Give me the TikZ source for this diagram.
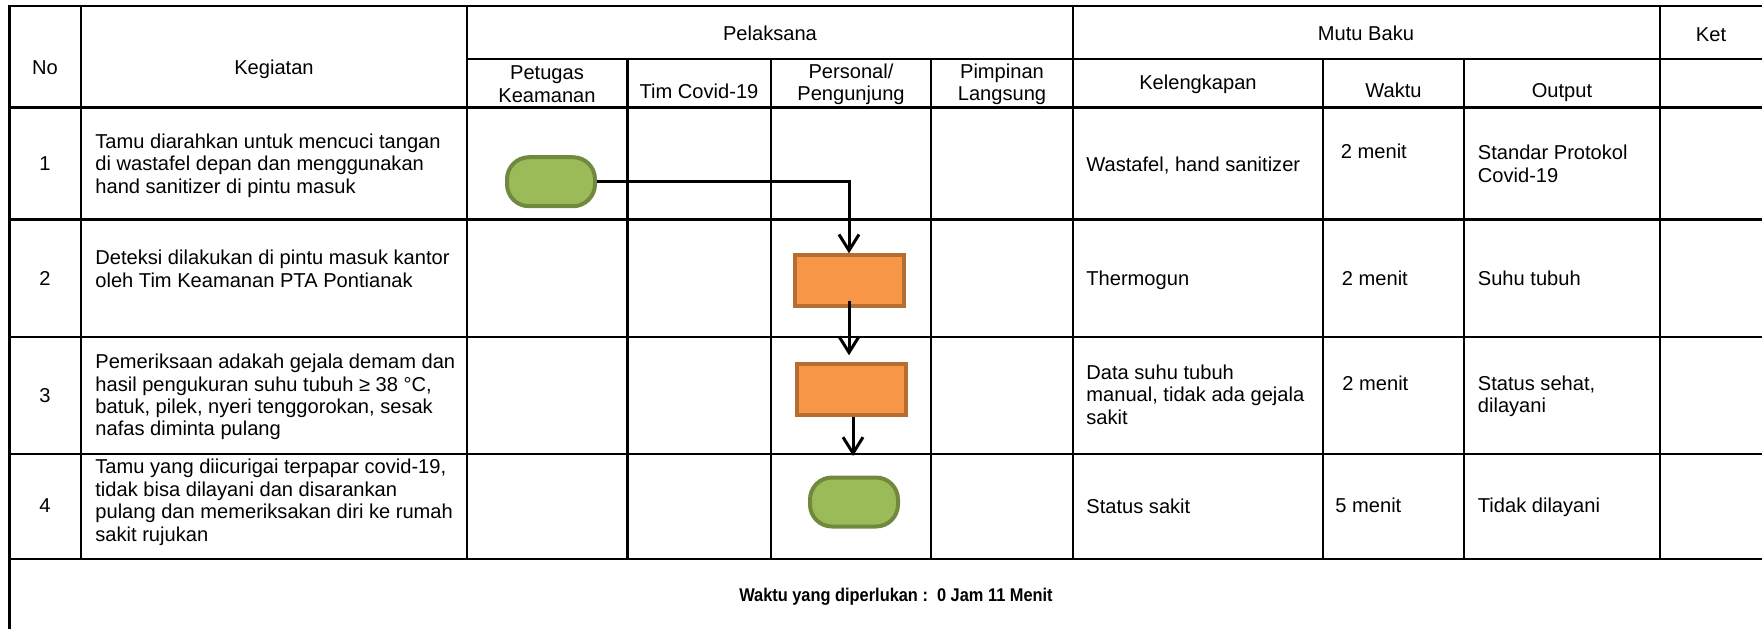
\documentclass[tikz,border=0pt]{standalone}
\usepackage{graphicx}
\usepackage{fontspec}
\setmainfont{Liberation Sans}
\usetikzlibrary{arrows.meta}
\definecolor{gfill}{HTML}{9BBB59}
\definecolor{gline}{HTML}{71893F}
\definecolor{ofill}{HTML}{F79646}
\definecolor{oline}{HTML}{B66D31}
\newcommand{\bodyfont}{\fontsize{10.05}{11.2}\selectfont}
\begin{document}
\begin{tikzpicture}[x=0.5pt,y=-0.5pt,
  grid/.style={line width=1.2pt, black},
  lt/.style={font=\bodyfont, inner sep=0pt, anchor=west, align=left},
  ct/.style={font=\bodyfont, inner sep=0pt, align=center},
  term/.style={draw=gline, fill=gfill, line width=2pt, rounded corners=11pt, minimum width=44pt, minimum height=24.5pt, inner sep=0pt},
  proc/.style={draw=oline, fill=ofill, line width=2pt, minimum width=54.5pt, minimum height=25.5pt, inner sep=0pt},
  flow/.style={line width=1.5pt, -{Straight Barb[length=8pt,width=10pt,line width=1.5pt]}}]
\useasboundingbox (0,0) rectangle (1762,629);
\clip (0,0) rectangle (1762,629);
% table grid
\draw[grid] (1762,5.7) -- (9.3,5.7) -- (9.3,629);
\draw[grid] (467,59) -- (1762,59);
\foreach \y in {107.5,219.5,337,454,559} \draw[grid] (9.3,\y) -- (1762,\y);
\foreach \x in {81,467,1073,1660} \draw[grid] (\x,5.7) -- (\x,559);
\foreach \x in {627.5,771,931,1323,1464} \draw[grid] (\x,59) -- (\x,559);
% header
\node[ct] (hno) at (45,68) {No};
\node[ct] (hkeg) at (274,69) {Kegiatan};
\node[ct] (hpel) at (770,33) {Pelaksana};
\node[ct] (hmutu) at (1366,33) {Mutu Baku};
\node[ct] (hket) at (1711,35) {Ket};
\node[ct] (hpet) at (547,84) {Petugas\\Keamanan};
\node[ct] (htim) at (699,91) {Tim Covid-19};
\node[ct] (hper) at (851,84) {Personal/\\Pengunjung};
\node[ct] (hpim) at (1002,84) {Pimpinan\\Langsung};
\node[ct] (hkel) at (1198,84) {Kelengkapan};
\node[ct] (hwak) at (1393.5,90) {Waktu};
\node[ct] (hout) at (1562,93) {Output};
% numbers
\node[ct] (n1) at (45,163.5) {1};
\node[ct] (n2) at (45,278.5) {2};
\node[ct] (n3) at (45,395.5) {3};
\node[ct] (n4) at (45,506) {4};
% kegiatan
\node[lt] (k1) at (95,165.5) {Tamu diarahkan untuk mencuci tangan\\di wastafel depan dan menggunakan\\hand sanitizer di pintu masuk};
\node[lt] (k2) at (95,269) {Deteksi dilakukan di pintu masuk kantor\\oleh Tim Keamanan PTA Pontianak};
\node[lt] (k3) at (95,397) {Pemeriksaan adakah gejala demam dan\\hasil pengukuran suhu tubuh ≥ 38 °C,\\batuk, pilek, nyeri tenggorokan, sesak\\nafas diminta pulang};
\node[lt] (k4) at (95,502.2) {Tamu yang diicurigai terpapar covid-19,\\tidak bisa dilayani dan disarankan\\pulang dan memeriksakan diri ke rumah\\sakit rujukan};
% kelengkapan
\node[lt] (l1) at (1086,165) {Wastafel, hand sanitizer};
\node[lt] (l2) at (1086,280.5) {Thermogun};
\node[lt] (l3) at (1086,394.5) {Data suhu tubuh\\manual, tidak ada gejala\\sakit};
\node[lt] (l4) at (1086,506) {Status sakit};
% waktu
\node[lt] (w1) at (1340.5,151.6) {2 menit};
\node[lt] (w2) at (1341.5,278.5) {2 menit};
\node[lt] (w3) at (1342,383) {2 menit};
\node[lt] (w4) at (1335,505) {5 menit};
% output
\node[lt] (o1t) at (1477.5,164) {Standar Protokol\\Covid-19};
\node[lt] (o2t) at (1477.5,278.5) {Suhu tubuh};
\node[lt] (o3t) at (1477.5,396.4) {Status sehat,\\dilayani};
\node[lt] (o4t) at (1477.5,507) {Tidak dilayani};
% footer
\node[inner sep=0pt] (foot) at (896,597) {\scalebox{0.89}[1]{\fontsize{9.2}{11}\selectfont\bfseries Waktu yang diperlukan :\ \ 0 Jam 11 Menit}};
% flow shapes
\node[term] (g1) at (551,181.7) {};
\node[proc] (p1) at (849,280.8) {};
\node[proc] (p2) at (851,389.8) {};
\node[term] (g2) at (854,502) {};
\coordinate (e3) at (853,456);
% connectors
\draw[flow] (g1.east) -| (p1.north);
\draw[flow] ([yshift=3.5pt]p1.south) -- ([yshift=3.5pt]p1.south |- p2.north);
\draw[flow] (p2.south -| e3) -- (e3);
\end{tikzpicture}
\end{document}
